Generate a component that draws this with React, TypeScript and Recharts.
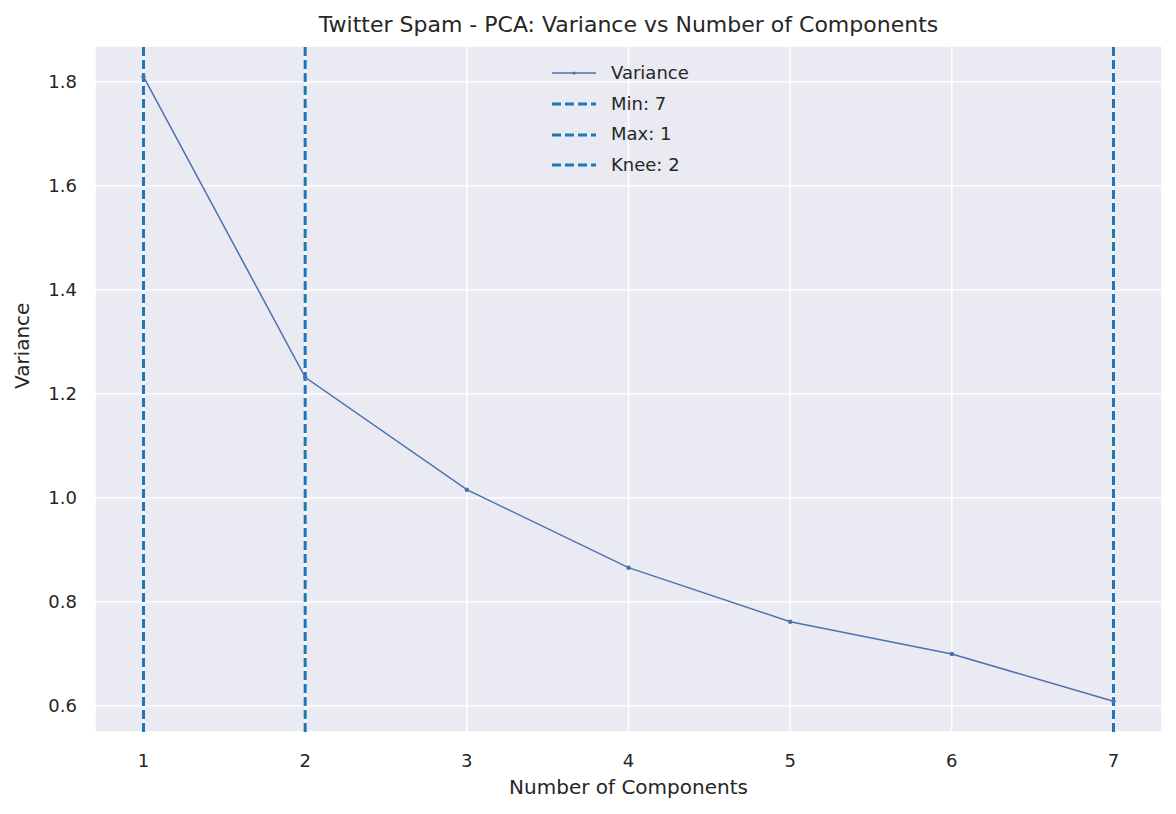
import { ComposedChart, Line, XAxis, YAxis, CartesianGrid, ReferenceLine } from "recharts"

const components = [1, 2, 3, 4, 5, 6, 7]
const variance = [1.81, 1.232, 1.016, 0.866, 0.762, 0.7, 0.609]
const xTicks = [1, 2, 3, 4, 5, 6, 7]
const yTicks = [0.6, 0.8, 1.0, 1.2, 1.4, 1.6, 1.8]
const markers = [
  { label: "Min: 7", x: 7 },
  { label: "Max: 1", x: 1 },
  { label: "Knee: 2", x: 2 },
]

const data = components.map((c, i) => ({ c, v: variance[i] }))
const font = "'DejaVu Sans', sans-serif"
const ink = "#262626"

export default function App() {
  return (
    <div style={{ position: "absolute", left: 0, top: 0, width: 1176, height: 814, background: "#fff", fontFamily: font }}>
      <div style={{ position: "absolute", top: 12, left: 95, width: 1067, textAlign: "center", fontSize: 22, color: ink }}>
        Twitter Spam - PCA: Variance vs Number of Components
      </div>
      <ComposedChart width={1176} height={814} data={data} margin={{ top: 46, right: 14, bottom: 0, left: 0 }}>
        <CartesianGrid fill="#EAEAF2" stroke="#ffffff" strokeWidth={1.5} />
        <XAxis
          dataKey="c"
          type="number"
          domain={[0.7, 7.3]}
          ticks={xTicks}
          height={82}
          axisLine={false}
          tickLine={false}
          tick={{ fontSize: 18, fill: ink, fontFamily: font }}
          tickMargin={16}
          label={{ value: "Number of Components", position: "insideBottom", offset: 20, fontSize: 20, fill: ink, fontFamily: font }}
        />
        <YAxis
          type="number"
          domain={[0.55, 1.869]}
          ticks={yTicks}
          tickFormatter={(v: number) => v.toFixed(1)}
          width={95}
          axisLine={false}
          tickLine={false}
          tick={{ fontSize: 18, fill: ink, fontFamily: font }}
          tickMargin={12}
          label={{ value: "Variance", angle: -90, position: "insideLeft", offset: 22, fontSize: 20, fill: ink, fontFamily: font }}
        />
        <Line dataKey="v" stroke="#4c72b0" strokeWidth={1.5} dot={{ r: 1.5, fill: "#4c72b0", stroke: "#4c72b0" }} isAnimationActive={false} />
        {markers.map((m) => (
          <ReferenceLine key={m.label} x={m.x} stroke="#1f77b4" strokeWidth={3} strokeDasharray="9 4" />
        ))}
      </ComposedChart>
      <div style={{ position: "absolute", left: 552, top: 58, fontSize: 18, color: ink, lineHeight: "30.7px" }}>
        <div style={{ display: "flex", alignItems: "center" }}>
          <svg width={46} height={10} style={{ marginRight: 13 }}>
            <line x1={0} y1={5} x2={44} y2={5} stroke="#4c72b0" strokeWidth={1.5} />
            <circle cx={22} cy={5} r={1.5} fill="#4c72b0" />
          </svg>
          Variance
        </div>
        {markers.map((m) => (
          <div key={m.label} style={{ display: "flex", alignItems: "center" }}>
            <svg width={46} height={10} style={{ marginRight: 13 }}>
              <line x1={0} y1={5} x2={44} y2={5} stroke="#1f77b4" strokeWidth={3} strokeDasharray="9 4" />
            </svg>
            {m.label}
          </div>
        ))}
      </div>
    </div>
  )
}
